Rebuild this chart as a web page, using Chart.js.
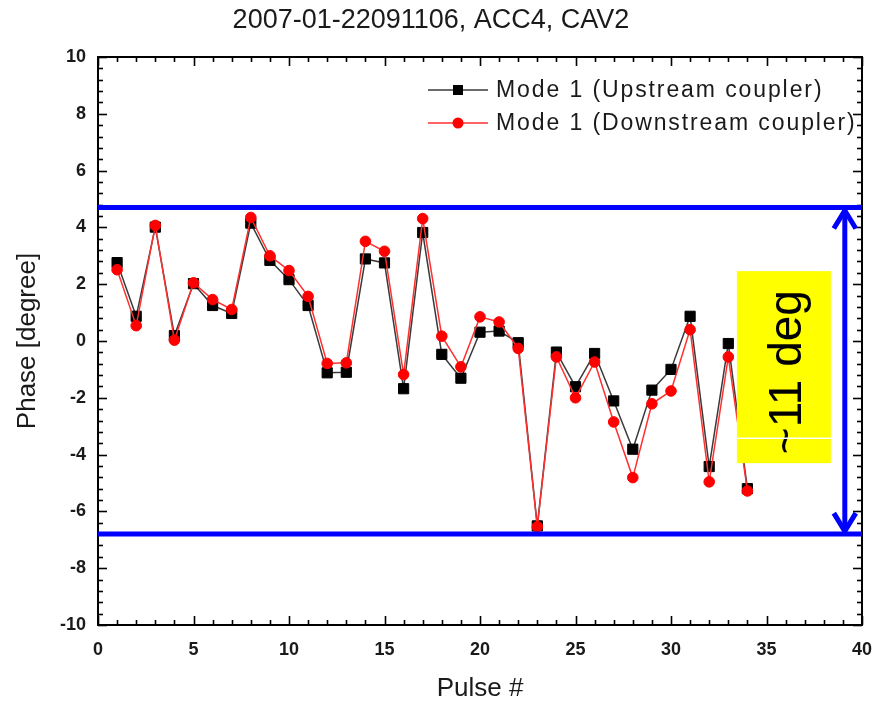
<!DOCTYPE html>
<html>
<head>
<meta charset="utf-8">
<script src="https://cdn.jsdelivr.net/npm/chart.js@4.4.1/dist/chart.umd.min.js"></script>
<style>
  html, body { margin: 0; padding: 0; background: #ffffff; }
  #wrap { width: 872px; height: 702px; }
</style>
</head>
<body>
<div id="wrap"><canvas id="c" width="872" height="702"></canvas></div>
<script>
// ---- data ----
const titleText = '2007-01-22091106, ACC4, CAV2';
const seriesLabels = ['Mode 1 (Upstream coupler)', 'Mode 1 (Downstream coupler)'];
const pulses = [1, 2, 3, 4, 5, 6, 7, 8, 9, 10, 11, 12, 13, 14, 15, 16, 17,
                18, 19, 20, 21, 22, 23, 24, 25, 26, 27, 28, 29, 30, 31, 32, 33, 34];
const upstream = [2.76, 0.87, 4.01, 0.19, 2.02, 1.25, 0.97, 4.15, 2.84, 2.16, 1.25, -1.12,
                  -1.10, 2.89, 2.75, -1.68, 3.82, -0.47, -1.31, 0.31, 0.35, -0.06, -6.51,
                  -0.39, -1.61, -0.44, -2.11, -3.81, -1.73, -1.00, 0.87, -4.42, -0.09, -5.20];
const downstream = [2.51, 0.54, 4.07, 0.03, 2.05, 1.46, 1.11, 4.35, 3.00, 2.48, 1.57, -0.79,
                    -0.77, 3.51, 3.16, -1.18, 4.31, 0.17, -0.91, 0.85, 0.67, -0.26, -6.54,
                    -0.56, -2.00, -0.74, -2.85, -4.81, -2.21, -1.76, 0.40, -4.96, -0.56, -5.28];
const xTickLabels = [0, 5, 10, 15, 20, 25, 30, 35, 40];
const yTickLabels = [-10, -8, -6, -4, -2, 0, 2, 4, 6, 8, 10];
// spread of the phase excursion (upper / lower limit, degrees)
const spreadBounds = [4.7, -6.8];
const spreadLabel = '~11 deg';

const FONT = "'Liberation Sans', Arial, Helvetica, sans-serif";
const INK = '#1a1a1a';

const toXY = (vals) => pulses.map((p, i) => ({ x: p, y: vals[i] }));

// Frame around the plot with inward major and minor ticks on all four sides
const frameTicks = {
  id: 'frameTicks',
  afterDatasetsDraw(chart) {
    const { ctx, chartArea: a, scales: { x, y } } = chart;
    ctx.save();
    ctx.strokeStyle = '#000';
    ctx.lineWidth = 1.6;
    const tick = (x1, y1, x2, y2) => { ctx.beginPath(); ctx.moveTo(x1, y1); ctx.lineTo(x2, y2); ctx.stroke(); };
    for (let v = x.min; v <= x.max + 1e-9; v += 1) {
      const px = Math.round(x.getPixelForValue(v)) + 0.5;
      const len = xTickLabels.includes(Math.round(v)) ? 9 : 5;
      tick(px, a.bottom, px, a.bottom - len);
      tick(px, a.top, px, a.top + len);
    }
    for (let i = 0; i <= 50; i++) {
      const v = y.min + i * 0.4;
      const py = Math.round(y.getPixelForValue(v)) + 0.5;
      const len = (i % 5 === 0) ? 9 : 5;
      tick(a.left, py, a.left + len, py);
      tick(a.right, py, a.right - len, py);
    }
    ctx.lineWidth = 2;
    ctx.strokeRect(a.left, a.top, a.right - a.left, a.bottom - a.top);
    ctx.restore();
  }
};

// Limit lines, double arrow and the highlighted spread label
const spreadMarks = {
  id: 'spreadMarks',
  afterDatasetsDraw(chart, args, opts) {
    const { ctx, chartArea: a, scales: { x, y } } = chart;
    const yTop = y.getPixelForValue(spreadBounds[0]);
    const yBot = y.getPixelForValue(spreadBounds[1]);
    ctx.save();
    // yellow label box
    const bx1 = x.getPixelForValue(opts.box[0]), bx2 = x.getPixelForValue(opts.box[1]);
    const by1 = y.getPixelForValue(opts.box[2]), by2 = y.getPixelForValue(opts.box[3]);
    ctx.fillStyle = '#ffff00';
    ctx.fillRect(bx1, by1, bx2 - bx1, by2 - by1);
    ctx.save();
    ctx.translate((bx1 + bx2) / 2 + 4, (by1 + by2) / 2 + 5);
    ctx.rotate(-Math.PI / 2);
    ctx.fillStyle = '#000';
    ctx.font = `46px ${FONT}`;
    ctx.textAlign = 'center';
    ctx.textBaseline = 'middle';
    ctx.fillText(spreadLabel, 0, 0);
    ctx.restore();
    const wy = y.getPixelForValue(opts.seam);
    ctx.strokeStyle = '#ffffff';
    ctx.lineWidth = 1.5;
    ctx.beginPath(); ctx.moveTo(bx1, wy); ctx.lineTo(bx2, wy); ctx.stroke();

    // horizontal limit lines
    ctx.strokeStyle = '#0000ff';
    ctx.lineWidth = 5;
    ctx.beginPath();
    ctx.moveTo(a.left, yTop); ctx.lineTo(a.right, yTop);
    ctx.moveTo(a.left, yBot); ctx.lineTo(a.right, yBot);
    ctx.stroke();

    // double headed arrow
    const ax = x.getPixelForValue(opts.arrowX);
    ctx.lineWidth = 5;
    ctx.lineCap = 'butt';
    ctx.beginPath(); ctx.moveTo(ax, yTop + 4); ctx.lineTo(ax, yBot - 4); ctx.stroke();
    ctx.lineJoin = 'miter';
    ctx.beginPath();
    ctx.moveTo(ax - 11, yTop + 21); ctx.lineTo(ax, yTop + 3); ctx.lineTo(ax + 11, yTop + 21);
    ctx.moveTo(ax - 11, yBot - 21); ctx.lineTo(ax, yBot - 3); ctx.lineTo(ax + 11, yBot - 21);
    ctx.stroke();
    ctx.restore();
  }
};

// Legend drawn inside the plot, top right
const insideLegend = {
  id: 'insideLegend',
  afterDraw(chart, args, opts) {
    const { ctx } = chart;
    ctx.save();
    chart.data.datasets.forEach((ds, i) => {
      const cy = opts.y + i * opts.rowGap;
      ctx.strokeStyle = ds.borderColor;
      ctx.lineWidth = 1.5;
      ctx.beginPath(); ctx.moveTo(opts.x, cy); ctx.lineTo(opts.x + opts.lineLen, cy); ctx.stroke();
      const mx = opts.x + opts.lineLen / 2;
      ctx.fillStyle = ds.pointBackgroundColor;
      if (ds.pointStyle === 'rect') {
        ctx.fillRect(mx - 5, cy - 5, 10, 10);
      } else {
        ctx.beginPath(); ctx.arc(mx, cy, 5.5, 0, Math.PI * 2); ctx.fill();
      }
      ctx.fillStyle = INK;
      ctx.font = `23px ${FONT}`;
      ctx.letterSpacing = '1.9px';
      ctx.textAlign = 'left';
      ctx.textBaseline = 'middle';
      ctx.fillText(ds.label, opts.x + opts.lineLen + 8, cy + 1);
    });
    ctx.restore();
  }
};

new Chart(document.getElementById('c'), {
  type: 'line',
  data: {
    datasets: [
      {
        label: seriesLabels[0],
        data: toXY(upstream),
        borderColor: '#3a3a3a',
        backgroundColor: '#000000',
        pointBackgroundColor: '#000000',
        pointBorderColor: '#000000',
        pointStyle: 'rect',
        pointRadius: 7.2,
        pointBorderWidth: 1,
        borderWidth: 1.5,
        tension: 0,
        order: 2
      },
      {
        label: seriesLabels[1],
        data: toXY(downstream),
        borderColor: '#ff3030',
        backgroundColor: '#ff0000',
        pointBackgroundColor: '#ff0000',
        pointBorderColor: '#ff0000',
        pointStyle: 'circle',
        pointRadius: 5.3,
        pointBorderWidth: 1,
        borderWidth: 1.5,
        tension: 0,
        order: 1
      }
    ]
  },
  options: {
    responsive: false,
    animation: false,
    devicePixelRatio: 1,
    layout: { padding: { left: 0, right: 10, top: 0, bottom: 0 } },
    plugins: {
      legend: { display: false },
      tooltip: { enabled: false },
      title: {
        display: true,
        text: titleText,
        color: INK,
        font: { family: FONT, size: 27, weight: 'normal', lineHeight: 1.2 },
        padding: { top: 4, bottom: 20.6 }
      },
      spreadMarks: { box: [33.45, 38.37, 2.46, -4.30], seam: -3.42, arrowX: 39.1 },
      insideLegend: { x: 428, y: 90, rowGap: 33, lineLen: 60 }
    },
    scales: {
      x: {
        type: 'linear',
        min: 0, max: 40,
        afterFit: (s) => { s.height = 77; s.paddingLeft = 0; s.paddingRight = 0; },
        afterBuildTicks: (s) => { s.ticks = xTickLabels.map(v => ({ value: v })); },
        ticks: { color: INK, padding: 14, font: { family: FONT, size: 18, weight: 'bold' } },
        grid: { display: false, drawTicks: false },
        border: { display: false },
        title: {
          display: true, text: 'Pulse #', color: INK,
          font: { family: FONT, size: 26, weight: 'normal', lineHeight: 1 },
          padding: { top: 0, bottom: 0 }
        }
      },
      y: {
        type: 'linear',
        min: -10, max: 10,
        afterFit: (s) => { s.width = 98; s.paddingTop = 0; s.paddingBottom = 0; },
        afterBuildTicks: (s) => { s.ticks = yTickLabels.map(v => ({ value: v })); },
        ticks: { color: INK, padding: 12, font: { family: FONT, size: 18, weight: 'bold' } },
        grid: { display: false, drawTicks: false },
        border: { display: false },
        title: {
          display: true, text: 'Phase [degree]', color: INK,
          font: { family: FONT, size: 26, weight: 'normal', lineHeight: 1 },
          padding: { top: 15, bottom: 0 }
        }
      }
    }
  },
  plugins: [frameTicks, spreadMarks, insideLegend]
});
</script>
</body>
</html>
